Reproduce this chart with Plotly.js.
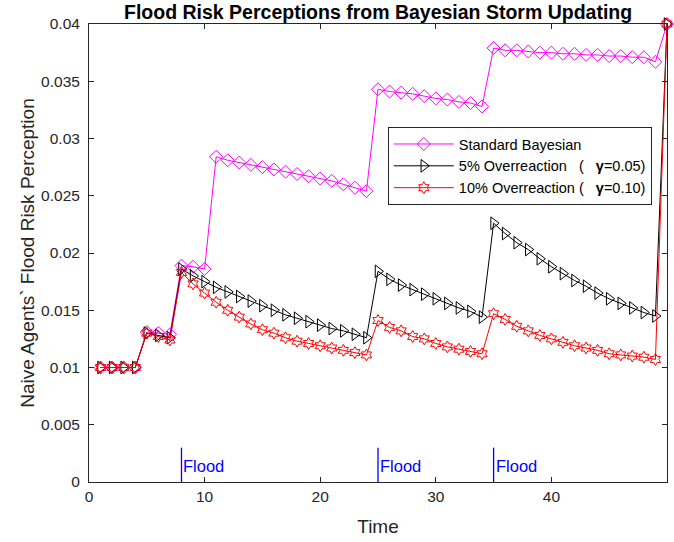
<!DOCTYPE html>
<html>
<head>
<meta charset="utf-8">
<script src="https://cdn.plot.ly/plotly-3.0.1.min.js"></script>
<style>html,body{margin:0;padding:0;background:#fff;}#chart{width:674px;height:542px;}</style>
</head>
<body>
<div id="chart"></div>
<script>
var time = [1,2,3,4,5,6,7,8,9,10,11,12,13,14,15,16,17,18,19,20,21,22,23,24,25,26,27,28,29,30,31,32,33,34,35,36,37,38,39,40,41,42,43,44,45,46,47,48,49,50];

var standardBayesian = [0.0100,0.0100,0.0100,0.0100,
  0.0131,0.0130,0.0129,
  0.0189,0.0188,0.0186,
  0.0284,0.0281,0.0279,0.0277,0.0275,0.0273,0.0271,0.0269,0.0267,0.0265,0.0263,0.0260,0.0257,0.0254,
  0.0343,0.0341,0.0340,0.0339,0.0337,0.0335,0.0334,0.0332,0.0331,0.0328,
  0.0379,0.0377,0.0377,0.0376,0.0375,0.0375,0.0374,0.0374,0.0373,0.0373,0.0372,0.0372,0.0371,0.0371,0.0367,
  0.0400];

var overreaction5 = [0.0100,0.0100,0.0100,0.0100,
  0.0130,0.0128,0.0126,
  0.0186,0.0180,0.0175,0.0170,0.0166,0.0162,0.0158,0.0154,0.0150,0.0146,0.0143,0.0140,0.0137,0.0134,0.0132,0.0129,0.0126,
  0.0184,0.0177,0.0172,0.0168,0.0164,0.0160,0.0156,0.0152,0.0149,0.0144,
  0.0226,0.0217,0.0209,0.0203,0.0195,0.0188,0.0182,0.0176,0.0171,0.0165,0.0160,0.0156,0.0152,0.0148,0.0145,
  0.0400];

var overreaction10 = [0.0100,0.0100,0.0100,0.0100,
  0.0130,0.0127,0.0124,
  0.0183,0.0173,0.0165,0.0157,0.0150,0.0144,0.0138,0.0133,0.0130,0.0126,0.0123,0.0121,0.0119,0.0117,0.0115,0.0113,0.0111,
  0.0141,0.0135,0.0132,0.0127,0.0125,0.0121,0.0118,0.0116,0.0114,0.0112,
  0.0147,0.0142,0.0136,0.0132,0.0128,0.0125,0.0122,0.0119,0.0117,0.0115,0.0112,0.0111,0.0110,0.0109,0.0107,
  0.0400];

var seriesNames = ["Standard Bayesian",
  "5% Overreaction\u00a0\u00a0\u00a0(\u00a0\u00a0\u00a0<b>\u03b3</b>=0.05)",
  "10% Overreaction (\u00a0\u00a0\u00a0<b>\u03b3</b>=0.10)"];

var floodTimes = [8, 25, 35];
var floodLabel = "Flood";

var xTicks = [0,10,20,30,40,50];
var yTicks = [0,0.005,0.01,0.015,0.02,0.025,0.03,0.035,0.04];
var yTickText = ["0","0.005","0.01","0.015","0.02","0.025","0.03","0.035","0.04"];

var FONT = "Liberation Sans, Arial, Helvetica, sans-serif";
var AX = "#262626";

var traces = [
  {x: time, y: standardBayesian, name: seriesNames[0], type: "scatter", mode: "lines+markers",
   line: {color: "#ff00ff", width: 1}, cliponaxis: false,
   marker: {symbol: "diamond-open", size: 10, color: "#ff00ff", line: {width: 1, color: "#ff00ff"}}},
  {x: time, y: overreaction5, name: seriesNames[1], type: "scatter", mode: "lines+markers",
   line: {color: "#000000", width: 1}, cliponaxis: false,
   marker: {symbol: "triangle-right-open", size: 11, color: "#000000", line: {width: 1, color: "#000000"}}},
  {x: time, y: overreaction10, name: seriesNames[2], type: "scatter", mode: "lines+markers",
   line: {color: "#ff0000", width: 1}, cliponaxis: false,
   marker: {symbol: "hexagram-open", size: 9, color: "#ff0000", line: {width: 1, color: "#ff0000"}}}
];

var floodHeight = 0.003;
var shapes = floodTimes.map(function(t){
  return {type: "line", xref: "x", yref: "y", x0: t, x1: t, y0: 0, y1: floodHeight,
          line: {color: "#0000ff", width: 1.3}};
});
var annotations = floodTimes.map(function(t){
  return {xref: "x", yref: "y", x: t, y: 0.0014, text: floodLabel, showarrow: false,
          xanchor: "left", yanchor: "middle", xshift: 0,
          font: {family: FONT, size: 16.5, color: "#0000ff"}};
});

var layout = {
  width: 674, height: 542,
  margin: {l: 89, r: 7, t: 24, b: 60},
  paper_bgcolor: "#ffffff", plot_bgcolor: "#ffffff",
  font: {family: FONT, color: AX},
  title: {text: "<b>Flood Risk Perceptions from Bayesian Storm Updating</b>",
          font: {family: FONT, size: 19.5, color: "#000000"},
          x: 0.561, xanchor: "center", xref: "container", y: 0.978, yanchor: "middle", yref: "container"},
  xaxis: {range: [0, 50], tickvals: xTicks, ticks: "inside", ticklen: 5, tickcolor: AX,
          showline: true, linecolor: AX, linewidth: 1, mirror: "ticks", showgrid: false, zeroline: false,
          tickfont: {family: FONT, size: 15.5, color: AX},
          title: {text: "Time", font: {family: FONT, size: 19, color: AX}, standoff: 16}},
  yaxis: {range: [0, 0.04], tickvals: yTicks, ticktext: yTickText, ticks: "inside", ticklen: 5, tickcolor: AX,
          showline: true, linecolor: AX, linewidth: 1, mirror: "ticks", showgrid: false, zeroline: false,
          tickfont: {family: FONT, size: 15.5, color: AX}, ticklabelstandoff: 5,
          title: {text: "Naive Agents` Flood Risk Perception", font: {family: FONT, size: 19, color: AX}, standoff: 1}},
  legend: {x: 0.517, y: 0.775, xanchor: "left", yanchor: "top", bgcolor: "#ffffff",
           bordercolor: AX, borderwidth: 1, font: {family: FONT, size: 14.5, color: "#000000"},
           itemwidth: 60, tracegroupgap: 0},
  shapes: shapes,
  annotations: annotations,
  showlegend: true
};

Plotly.newPlot("chart", traces, layout, {displayModeBar: false, staticPlot: true});
</script>
</body>
</html>
